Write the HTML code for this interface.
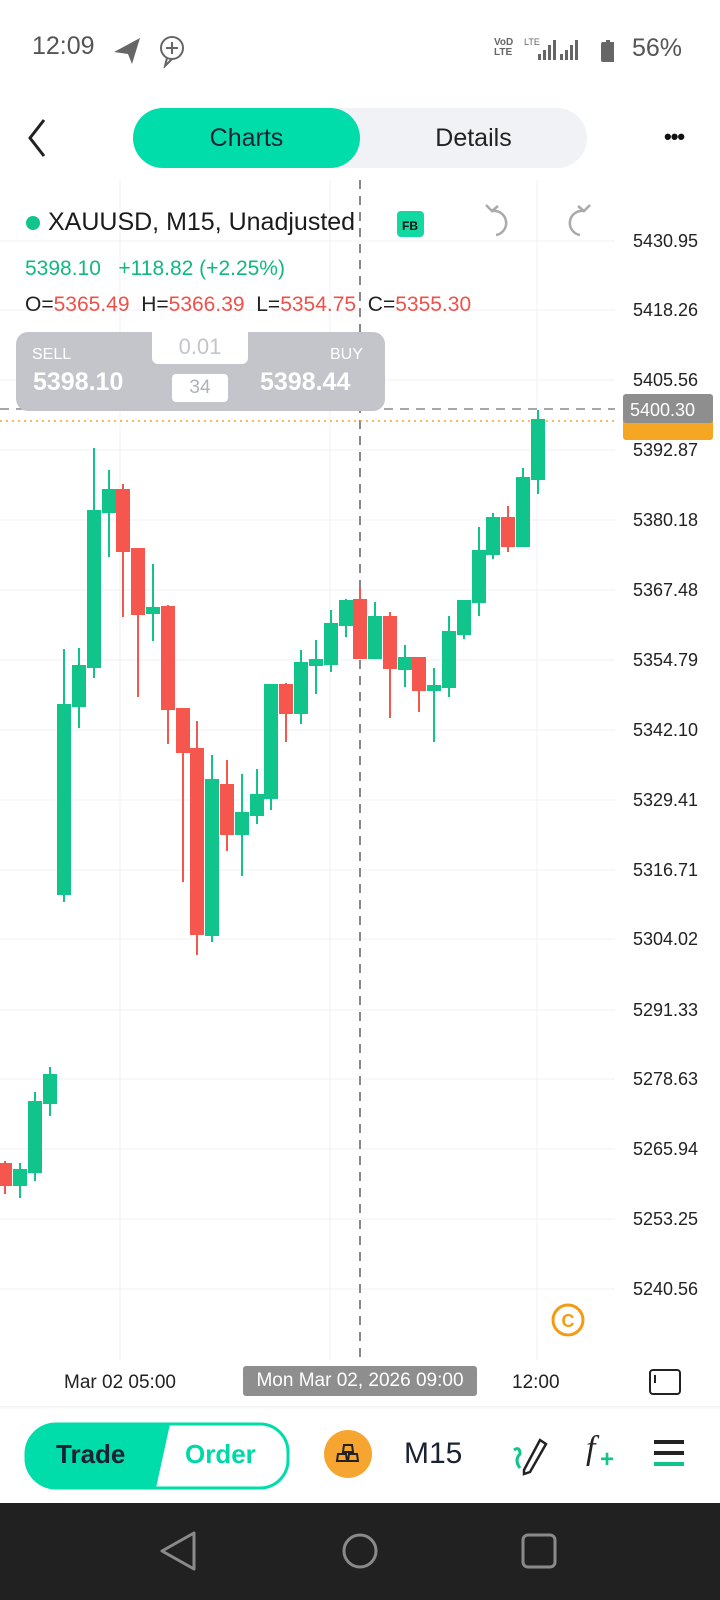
<!DOCTYPE html>
<html><head><meta charset="utf-8"><style>
html,body{margin:0;padding:0;width:720px;height:1600px;background:#fff;overflow:hidden;font-family:"Liberation Sans",sans-serif;}
.abs{position:absolute;}
</style></head><body>
<div class="abs" style="left:0;top:0;width:720px;height:1600px;">
<!-- status bar -->
<div class="abs" style="left:32px;top:32px;font-size:25px;color:#555;">12:09</div>
<svg class="abs" style="left:112px;top:34px" width="80" height="34"><path d="M2 18 L28 4 L20 30 L16 20 Z" fill="#666"/><circle cx="60" cy="14" r="11" fill="none" stroke="#666" stroke-width="2"/><path d="M60 8v12M54 14h12" stroke="#666" stroke-width="2"/><path d="M55 24 L53 32 L60 25" fill="none" stroke="#666" stroke-width="2"/></svg>
<div class="abs" style="left:494px;top:38px;font-size:10px;line-height:10px;color:#666;font-weight:bold">VoD<br>LTE</div>
<svg class="abs" style="left:524px;top:36px" width="90" height="26"><text x="0" y="9" font-size="9" fill="#666" font-family="Liberation Sans">LTE</text><g fill="#666"><rect x="14" y="18" width="3" height="6"/><rect x="19" y="14" width="3" height="10"/><rect x="24" y="9" width="3" height="15"/><rect x="29" y="4" width="3" height="20"/><rect x="36" y="18" width="3" height="6"/><rect x="41" y="14" width="3" height="10"/><rect x="46" y="9" width="3" height="15"/><rect x="51" y="4" width="3" height="20"/><rect x="82" y="4" width="4" height="3"/><rect x="77" y="6" width="14" height="20" rx="2"/></g></svg>
<div class="abs" style="left:632px;top:34px;font-size:25px;color:#555;">56%</div>
<!-- header -->
<svg class="abs" style="left:24px;top:118px" width="30" height="40"><path d="M20 2 L6 20 L20 38" fill="none" stroke="#222" stroke-width="3"/></svg>
<div class="abs" style="left:133px;top:108px;width:454px;height:60px;border-radius:30px;background:#f0f2f5;"></div>
<div class="abs" style="left:133px;top:108px;width:227px;height:60px;border-radius:30px;background:#00dcaa;"></div>
<div class="abs" style="left:133px;top:124px;width:227px;text-align:center;font-size:25px;color:#1b2233;">Charts</div>
<div class="abs" style="left:360px;top:124px;width:227px;text-align:center;font-size:25px;color:#222;">Details</div>
<div class="abs" style="left:664px;top:124px;font-size:22px;color:#111;letter-spacing:-1px;font-weight:bold">•••</div>
<!-- chart svg -->
<svg class="abs" style="left:0;top:0" width="720" height="1410">
<g stroke="#f1f2f4" stroke-width="1">
<line x1="0" y1="241" x2="615" y2="241"/><line x1="0" y1="310" x2="615" y2="310"/><line x1="0" y1="380" x2="615" y2="380"/><line x1="0" y1="450" x2="615" y2="450"/><line x1="0" y1="520" x2="615" y2="520"/><line x1="0" y1="590" x2="615" y2="590"/><line x1="0" y1="660" x2="615" y2="660"/><line x1="0" y1="730" x2="615" y2="730"/><line x1="0" y1="800" x2="615" y2="800"/><line x1="0" y1="870" x2="615" y2="870"/><line x1="0" y1="939" x2="615" y2="939"/><line x1="0" y1="1010" x2="615" y2="1010"/><line x1="0" y1="1079" x2="615" y2="1079"/><line x1="0" y1="1149" x2="615" y2="1149"/><line x1="0" y1="1219" x2="615" y2="1219"/><line x1="0" y1="1289" x2="615" y2="1289"/>
<line x1="120" y1="180" x2="120" y2="1360"/><line x1="330" y1="180" x2="330" y2="1360"/><line x1="537" y1="180" x2="537" y2="1360"/>
</g>
<line x1="360" y1="180" x2="360" y2="1360" stroke="#888" stroke-width="2" stroke-dasharray="9,7"/>
<line x1="0" y1="409" x2="615" y2="409" stroke="#888" stroke-width="1.5" stroke-dasharray="9,7"/>
<line x1="0" y1="421" x2="615" y2="421" stroke="#f5a623" stroke-width="1.5" stroke-dasharray="2,4"/>
<g fill="#10c48b" stroke="#10c48b" stroke-width="2">
<line x1="20" y1="1163" x2="20" y2="1198"/><rect x="14" y="1170" width="12" height="15"/>
<line x1="35" y1="1092" x2="35" y2="1181"/><rect x="29" y="1102" width="12" height="70"/>
<line x1="50" y1="1067" x2="50" y2="1116"/><rect x="44" y="1075" width="12" height="28"/>
<line x1="64" y1="649" x2="64" y2="902"/><rect x="58" y="705" width="12" height="189"/>
<line x1="79" y1="648" x2="79" y2="728"/><rect x="73" y="666" width="12" height="40"/>
<line x1="94" y1="448" x2="94" y2="678"/><rect x="88" y="511" width="12" height="156"/>
<line x1="109" y1="470" x2="109" y2="557"/><rect x="103" y="490" width="12" height="22"/>
<line x1="153" y1="564" x2="153" y2="641"/><rect x="147" y="608" width="12" height="5"/>
<line x1="212" y1="755" x2="212" y2="942"/><rect x="206" y="780" width="12" height="155"/>
<line x1="242" y1="774" x2="242" y2="876"/><rect x="236" y="813" width="12" height="21"/>
<line x1="257" y1="769" x2="257" y2="824"/><rect x="251" y="795" width="12" height="20"/>
<line x1="271" y1="684" x2="271" y2="810"/><rect x="265" y="685" width="12" height="113"/>
<line x1="301" y1="650" x2="301" y2="724"/><rect x="295" y="663" width="12" height="50"/>
<line x1="316" y1="640" x2="316" y2="694"/><rect x="310" y="660" width="12" height="5"/>
<line x1="331" y1="610" x2="331" y2="672"/><rect x="325" y="624" width="12" height="40"/>
<line x1="346" y1="599" x2="346" y2="637"/><rect x="340" y="601" width="12" height="24"/>
<line x1="375" y1="602" x2="375" y2="659"/><rect x="369" y="617" width="12" height="41"/>
<line x1="405" y1="645" x2="405" y2="687"/><rect x="399" y="658" width="12" height="11"/>
<line x1="434" y1="668" x2="434" y2="742"/><rect x="428" y="686" width="12" height="4"/>
<line x1="449" y1="616" x2="449" y2="697"/><rect x="443" y="632" width="12" height="55"/>
<line x1="464" y1="601" x2="464" y2="639"/><rect x="458" y="601" width="12" height="33"/>
<line x1="479" y1="527" x2="479" y2="616"/><rect x="473" y="551" width="12" height="51"/>
<line x1="493" y1="513" x2="493" y2="559"/><rect x="487" y="518" width="12" height="36"/>
<line x1="523" y1="468" x2="523" y2="546"/><rect x="517" y="478" width="12" height="68"/>
<line x1="538" y1="410" x2="538" y2="494"/><rect x="532" y="420" width="12" height="59"/>
</g>
<g fill="#f5564e" stroke="#f5564e" stroke-width="2">
<line x1="5" y1="1161" x2="5" y2="1194"/><rect x="-1" y="1164" width="12" height="21"/>
<line x1="123" y1="484" x2="123" y2="617"/><rect x="117" y="490" width="12" height="61"/>
<line x1="138" y1="549" x2="138" y2="697"/><rect x="132" y="549" width="12" height="65"/>
<line x1="168" y1="605" x2="168" y2="744"/><rect x="162" y="607" width="12" height="102"/>
<line x1="183" y1="709" x2="183" y2="882"/><rect x="177" y="709" width="12" height="43"/>
<line x1="197" y1="721" x2="197" y2="955"/><rect x="191" y="749" width="12" height="185"/>
<line x1="227" y1="760" x2="227" y2="851"/><rect x="221" y="785" width="12" height="49"/>
<line x1="286" y1="683" x2="286" y2="742"/><rect x="280" y="685" width="12" height="28"/>
<line x1="360" y1="588" x2="360" y2="658"/><rect x="354" y="600" width="12" height="58"/>
<line x1="390" y1="612" x2="390" y2="718"/><rect x="384" y="617" width="12" height="51"/>
<line x1="419" y1="658" x2="419" y2="712"/><rect x="413" y="658" width="12" height="32"/>
<line x1="508" y1="506" x2="508" y2="552"/><rect x="502" y="518" width="12" height="28"/>
</g>
<g font-family="Liberation Sans" font-size="18" fill="#222">
<text x="633" y="247">5430.95</text><text x="633" y="316">5418.26</text><text x="633" y="386">5405.56</text><text x="633" y="456">5392.87</text><text x="633" y="526">5380.18</text><text x="633" y="596">5367.48</text><text x="633" y="666">5354.79</text><text x="633" y="736">5342.10</text><text x="633" y="806">5329.41</text><text x="633" y="876">5316.71</text><text x="633" y="945">5304.02</text><text x="633" y="1016">5291.33</text><text x="633" y="1085">5278.63</text><text x="633" y="1155">5265.94</text><text x="633" y="1225">5253.25</text><text x="633" y="1295">5240.56</text>
</g>
<rect x="623" y="412" width="90" height="28" rx="3" fill="#f5a623"/>
<rect x="623" y="394" width="90" height="29" rx="3" fill="#8e8e8e"/>
<text x="630" y="416" font-family="Liberation Sans" font-size="18" fill="#fff">5400.30</text>
<circle cx="568" cy="1320" r="15" fill="none" stroke="#f39c12" stroke-width="3"/>
<text x="568" y="1327" text-anchor="middle" font-family="Liberation Sans" font-size="18" font-weight="bold" fill="#f39c12">C</text>
<!-- icons in header -->
<circle cx="33" cy="223" r="7" fill="#10c48b"/>
<rect x="397" y="211" width="27" height="26" rx="4" fill="#12d8a2"/>
<text x="410" y="230" text-anchor="middle" font-family="Liberation Sans" font-size="12" font-weight="bold" fill="#111">FB</text>
<path d="M492 211 a12 12 0 1 1 4 24" fill="none" stroke="#aaa" stroke-width="2.5"/><path d="M486 205 L492 211 L498 206" fill="none" stroke="#aaa" stroke-width="2.5"/>
<path d="M584 211 a12 12 0 1 0 -4 24" fill="none" stroke="#aaa" stroke-width="2.5"/><path d="M590 205 L584 211 L578 206" fill="none" stroke="#aaa" stroke-width="2.5"/>
</svg>
<div class="abs" style="left:48px;top:208px;font-size:25px;color:#1b1b1b;">XAUUSD, M15, Unadjusted</div>
<div class="abs" style="left:25px;top:257px;font-size:21px;color:#10b882;white-space:pre">5398.10   +118.82 (+2.25%)</div>
<div class="abs" style="left:25px;top:293px;font-size:21px;color:#222;white-space:pre">O=<span style="color:#f0504a">5365.49</span>  H=<span style="color:#f0504a">5366.39</span>  L=<span style="color:#f0504a">5354.75</span>  C=<span style="color:#f0504a">5355.30</span></div>
<!-- sell/buy -->
<div class="abs" style="left:16px;top:332px;width:369px;height:79px;border-radius:12px;background:#c3c5ca;"></div>
<div class="abs" style="left:152px;top:332px;width:96px;height:32px;border-radius:0 0 6px 6px;background:#fff;text-align:center;font-size:22px;color:#c3c5ca;line-height:30px">0.01</div>
<div class="abs" style="left:172px;top:374px;width:56px;height:28px;border-radius:4px;background:#fff;text-align:center;font-size:19px;color:#b0b2b7;line-height:28px">34</div>
<div class="abs" style="left:32px;top:346px;font-size:16px;color:#fff;">SELL</div>
<div class="abs" style="left:33px;top:368px;font-size:25px;font-weight:bold;color:#fff;">5398.10</div>
<div class="abs" style="left:330px;top:346px;font-size:16px;color:#fff;">BUY</div>
<div class="abs" style="left:260px;top:368px;font-size:25px;font-weight:bold;color:#fff;">5398.44</div>
<!-- time axis -->
<div class="abs" style="left:64px;top:1372px;font-size:19px;color:#222;">Mar 02 05:00</div>
<div class="abs" style="left:243px;top:1366px;width:234px;height:30px;border-radius:3px;background:#8e8e8e;color:#fff;font-size:19px;text-align:center;line-height:30px">Mon Mar 02, 2026 09:00</div>
<div class="abs" style="left:512px;top:1372px;font-size:19px;color:#222;">12:00</div>
<div class="abs" style="left:649px;top:1369px;width:28px;height:22px;border:2px solid #222;border-radius:4px;"></div>
<div class="abs" style="left:654px;top:1375px;width:2px;height:8px;background:#222"></div>
<!-- toolbar -->
<div class="abs" style="left:0;top:1406px;width:720px;height:4px;background:linear-gradient(#f4f4f4,#fff)"></div>
<svg class="abs" style="left:24px;top:1421px" width="266" height="70"><path d="M2 34 a30 30 0 0 1 30 -31 H236 a28 28 0 0 1 28 28 v8 a28 28 0 0 1 -28 28 H32 a30 30 0 0 1 -30 -31Z" fill="#fff" stroke="#00dcaa" stroke-width="3"/><path d="M2 34 a30 30 0 0 1 30 -31 H146 L132 67 H32 a30 30 0 0 1 -30 -33Z" fill="#00dcaa"/></svg>
<div class="abs" style="left:56px;top:1439px;font-size:26px;font-weight:bold;color:#1b2233;">Trade</div>
<div class="abs" style="left:185px;top:1439px;font-size:26px;font-weight:bold;color:#00d8a8;">Order</div>
<div class="abs" style="left:324px;top:1430px;width:48px;height:48px;border-radius:50%;background:#f7a531;"></div>
<svg class="abs" style="left:334px;top:1440px" width="28" height="28"><g fill="none" stroke="#222" stroke-width="2"><path d="M10 5h8l1 7h-10z"/><path d="M4 14h8l1 7h-10z"/><path d="M15 14h8l1 7h-10z"/></g></svg>
<div class="abs" style="left:404px;top:1437px;font-size:30px;color:#1b2233;">M15</div>
<svg class="abs" style="left:508px;top:1430px" width="50" height="48"><path d="M6 20 q6 -4 6 4 q-6 6 0 14" fill="none" stroke="#10c48b" stroke-width="3"/><path d="M16 40 l16 -30 l6 4 l-16 28 l-6 2 z" fill="none" stroke="#222" stroke-width="2.5"/></svg>
<div class="abs" style="left:586px;top:1430px;font-size:34px;font-style:italic;font-family:'Liberation Serif',serif;color:#222">f</div>
<div class="abs" style="left:600px;top:1446px;font-size:24px;font-weight:bold;color:#10c48b">+</div>
<div class="abs" style="left:654px;top:1440px;width:30px;height:4px;background:#222"></div>
<div class="abs" style="left:654px;top:1451px;width:30px;height:4px;background:#222"></div>
<div class="abs" style="left:654px;top:1462px;width:30px;height:4px;background:#10c48b"></div>
<!-- nav bar -->
<div class="abs" style="left:0;top:1503px;width:720px;height:97px;background:#212121;"></div>
<svg class="abs" style="left:0;top:1503px" width="720" height="97"><path d="M194 30 L162 48 L194 66 Z" fill="none" stroke="#8a8a8a" stroke-width="3" stroke-linejoin="round"/><circle cx="360" cy="48" r="16" fill="none" stroke="#8a8a8a" stroke-width="3"/><rect x="523" y="32" width="32" height="32" rx="5" fill="none" stroke="#8a8a8a" stroke-width="3"/></svg>
</div>
</body></html>
